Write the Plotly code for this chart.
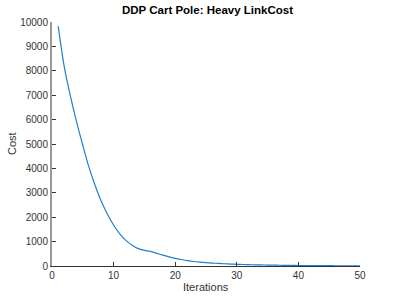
import plotly.graph_objects as go

iterations = list(range(1, 51))
cost = [9830, 8150, 6950, 5900, 4950, 4050, 3300, 2650, 2120, 1680,
        1320, 1050, 850, 710, 640, 600, 520, 445, 375, 315,
        265, 220, 185, 158, 138, 120, 105, 92, 80, 70,
        62, 55, 49, 43, 38, 34, 30, 27, 24, 21,
        19, 17, 15, 13, 12, 11, 10, 9, 8, 7]
x_ticks = [0, 10, 20, 30, 40, 50]
y_ticks = [0, 1000, 2000, 3000, 4000, 5000, 6000, 7000, 8000, 9000, 10000]
y_tick_labels = [str(v) for v in y_ticks]

fig = go.Figure()
fig.add_trace(go.Scatter(x=iterations, y=cost, mode="lines",
                         line=dict(color="#1f7fd0", width=1.2, shape="spline", smoothing=0.8),
                         showlegend=False))

font = "Liberation Sans, Arial, sans-serif"
fig.update_layout(
    width=399, height=299,
    margin=dict(l=52, r=39, t=22, b=33, autoexpand=False),
    paper_bgcolor="white", plot_bgcolor="white",
    title=dict(text="<b>DDP Cart Pole: Heavy LinkCost</b>", x=0.52, xanchor="center",
               y=0.966, yanchor="middle", font=dict(family=font, size=11.5, color="black")),
    font=dict(family=font, size=10, color="#333"),
    annotations=[
        dict(text="Iterations", xref="paper", yref="paper", x=0.5, y=0, yshift=-21,
             xanchor="center", yanchor="middle", showarrow=False,
             font=dict(size=11, color="#333")),
        dict(text="Cost", xref="paper", yref="paper", x=0, y=0.5, xshift=-40,
             xanchor="center", yanchor="middle", showarrow=False, textangle=-90,
             font=dict(size=11, color="#333")),
    ],
)
fig.update_xaxes(range=[0, 50], tickvals=x_ticks, ticks="inside", ticklen=4,
                 tickcolor="#333", showline=True, linecolor="#333", linewidth=1,
                 showgrid=False, zeroline=False, automargin=False,
                 tickfont=dict(size=10, color="#333"))
fig.update_yaxes(range=[0, 10000], tickvals=y_ticks, ticktext=y_tick_labels,
                 ticks="inside", ticklen=4,
                 tickcolor="#333", showline=True, linecolor="#999", linewidth=2,
                 showgrid=False, zeroline=False, automargin=False,
                 tickfont=dict(size=10, color="#333"))

fig.write_html("out.html", config={"displayModeBar": False},
               post_script="document.body.style.margin='0';")
